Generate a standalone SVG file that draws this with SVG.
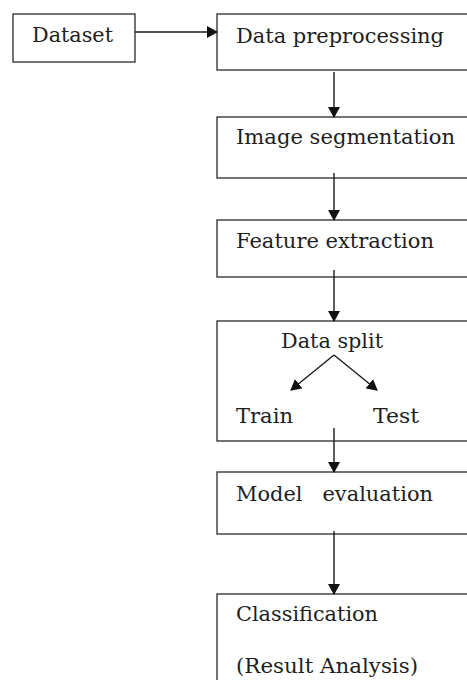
<svg xmlns="http://www.w3.org/2000/svg" width="467" height="680" viewBox="0 0 467 680">
<style>
.box{fill:#fff;stroke:#2a2a2a;stroke-width:1.3}
.t{font-family:"DejaVu Serif","Liberation Serif",serif;font-size:20.5px;fill:#1e1e1e}
.c{stroke:#1a1a1a;stroke-width:1.4;fill:none}
</style>
<defs>
<marker id="ah" markerWidth="11" markerHeight="12" refX="10" refY="6" orient="auto" markerUnits="userSpaceOnUse">
<path d="M0,0 L11,6 L0,12 Z" fill="#111"/>
</marker>
</defs>
<rect width="467" height="680" fill="#fff"/>
<g id="dataset"><rect class="box" x="13" y="14" width="122" height="48"/><text class="t" x="32" y="42" textLength="81" lengthAdjust="spacingAndGlyphs">Dataset</text></g>
<g id="preprocessing"><rect class="box" x="217" y="14" width="270" height="56"/><text class="t" x="236" y="43" textLength="208" lengthAdjust="spacingAndGlyphs">Data preprocessing</text></g>
<g id="segmentation"><rect class="box" x="217" y="117" width="270" height="61"/><text class="t" x="236" y="144" textLength="219" lengthAdjust="spacingAndGlyphs">Image segmentation</text></g>
<g id="features"><rect class="box" x="217" y="220" width="270" height="57"/><text class="t" x="236" y="248" textLength="198" lengthAdjust="spacingAndGlyphs">Feature extraction</text></g>
<g id="split"><rect class="box" x="217" y="321" width="270" height="120"/><text class="t" x="281" y="348" textLength="102" lengthAdjust="spacingAndGlyphs">Data split</text><text class="t" x="236" y="423" textLength="57" lengthAdjust="spacingAndGlyphs">Train</text><text class="t" x="373" y="423" textLength="46" lengthAdjust="spacingAndGlyphs">Test</text></g>
<g id="evaluation"><rect class="box" x="217" y="472" width="270" height="62"/><text class="t" x="236" y="501" textLength="197" lengthAdjust="spacingAndGlyphs" xml:space="preserve">Model   evaluation</text></g>
<g id="classification"><rect class="box" x="217" y="594" width="270" height="110"/><text class="t" x="236" y="621" textLength="142" lengthAdjust="spacingAndGlyphs">Classification</text><text class="t" x="236" y="673" textLength="182" lengthAdjust="spacingAndGlyphs">(Result Analysis)</text></g>
<g id="connectors">
<line class="c" x1="135" y1="32" x2="217" y2="32" marker-end="url(#ah)"/>
<line class="c" x1="334" y1="72" x2="334" y2="117" marker-end="url(#ah)"/>
<line class="c" x1="334" y1="173" x2="334" y2="220" marker-end="url(#ah)"/>
<line class="c" x1="334" y1="270" x2="334" y2="321" marker-end="url(#ah)"/>
<line class="c" x1="334" y1="355" x2="291" y2="390" marker-end="url(#ah)"/>
<line class="c" x1="334" y1="355" x2="377" y2="390" marker-end="url(#ah)"/>
<line class="c" x1="334" y1="428" x2="334" y2="472" marker-end="url(#ah)"/>
<line class="c" x1="334" y1="531" x2="334" y2="594" marker-end="url(#ah)"/>
</g>
</svg>
